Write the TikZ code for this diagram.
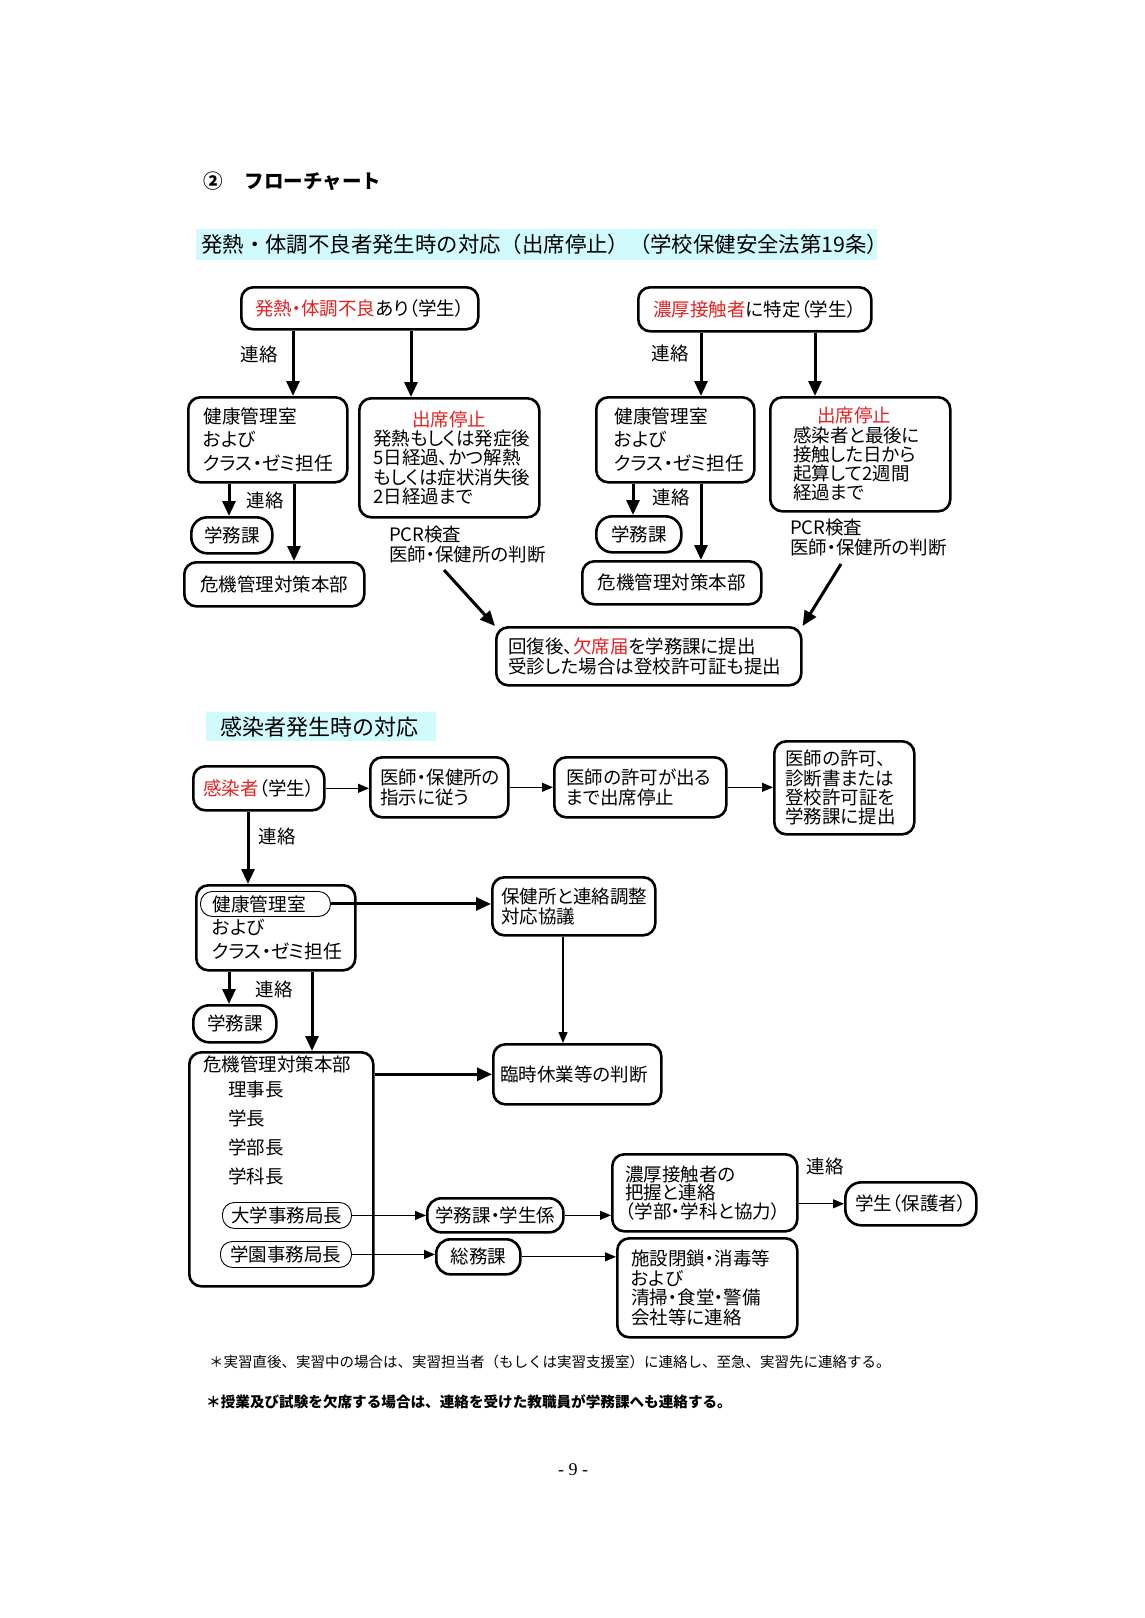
\documentclass[tikz,border=0pt]{standalone}
\usepackage{fontspec}
\setmainfont{Noto Sans CJK JP}[RawFeature={+palt}]
\newfontfamily\plainjp{Noto Sans CJK JP}
\newfontfamily\serifnum{Liberation Serif}
\usetikzlibrary{arrows.meta}
\definecolor{hred}{RGB}{225,35,35}
\definecolor{hcyan}{RGB}{208,250,252}
\tikzset{
  box/.style={draw, line width=2.6pt, rounded corners=12pt, anchor=north west, inner ysep=0pt, align=left, font=\fontsize{18.5}{19.5}\selectfont},
  cbox/.style={box, align=center},
  pill/.style={draw, line width=0.9pt, rounded corners=12pt, anchor=north west, inner sep=0pt, font=\fontsize{18.5}{20}\selectfont},
  thk/.style={line width=3pt, -{Triangle[length=15pt,width=13pt]}},
  thn/.style={line width=1.2pt, -{Triangle[length=11pt,width=9pt]}},
  lbl/.style={font=\fontsize{18.5}{20}\selectfont, inner sep=0pt},
  txt/.style={font=\fontsize{18.5}{20}\selectfont, inner sep=0pt, anchor=west, align=left},
  hbar/.style={fill=hcyan, anchor=north west, inner ysep=0pt, align=left},
}
\begin{document}
\begin{tikzpicture}[x=1pt,y=-1pt]
\path[fill=white, use as bounding box] (0,0) rectangle (1144,1618);

% title
\node[anchor=west, inner sep=0pt, font=\plainjp\bfseries\fontsize{19.5}{20}\selectfont] (title) at (203,181) {②\hspace{22pt}フローチャート};

% heading 1
\node[hbar, minimum height=31pt, text width=671pt, inner xsep=5pt, font=\plainjp\fontsize{21.4}{22}\selectfont] (h1) at (196,229) {発熱・体調不良者発生時の対応（出席停止）（学校保健安全法第19条）};

% top section boxes
\node[cbox, minimum width=237pt, minimum height=42pt] (A) at (240,286) {{\color{hred}発熱・体調不良}あり（学生）};
\node[cbox, minimum width=233pt, minimum height=44pt] (B) at (637,286) {{\color{hred}濃厚接触者}に特定（学生）};

\node[box, minimum width=159pt, minimum height=85pt, text width=129pt, inner xsep=15pt, font=\fontsize{18.7}{23.7}\selectfont] (C1) at (187,396) {健康管理室\\および\\クラス・ゼミ担任};
\node[box, minimum width=180pt, minimum height=119pt, text width=152pt, inner xsep=14pt, font=\fontsize{18.5}{19.3}\selectfont] (D1) at (358,397) {\makebox[\linewidth]{\color{hred}出席停止}\\発熱もしくは発症後\\5日経過、かつ解熱\\もしくは症状消失後\\2日経過まで};

\node[box, minimum width=158pt, minimum height=85pt, text width=122pt, inner xsep=18pt, font=\fontsize{18.7}{23.7}\selectfont] (C2) at (595,396) {健康管理室\\および\\クラス・ゼミ担任};
\node[box, minimum width=180pt, minimum height=114pt, text width=134pt, inner xsep=23pt, font=\fontsize{18.5}{19.3}\selectfont] (D2) at (769,396) {\makebox[\linewidth]{\color{hred}出席停止\hspace{12pt}}\\感染者と最後に\\接触した日から\\起算して2週間\\経過まで};

\node[cbox, rounded corners=16pt, minimum width=81pt, minimum height=36pt] (SG1) at (190,516) {学務課};
\node[cbox, rounded corners=16pt, minimum width=85pt, minimum height=36pt] (SG2) at (595,515) {学務課};
\node[cbox, minimum width=180pt, minimum height=44pt] (K1) at (183,561) {危機管理対策本部};
\node[cbox, minimum width=179pt, minimum height=43pt] (K2) at (581,560) {危機管理対策本部};

\node[txt] (pcr1) at (389,545) {PCR検査\\医師・保健所の判断};
\node[txt] (pcr2) at (790,538) {PCR検査\\医師・保健所の判断};

\node[box, minimum width=305pt, minimum height=58pt, text width=281pt, inner xsep=12pt, font=\fontsize{18.5}{19.6}\selectfont] (E) at (495,626) {回復後、{\color{hred}欠席届}を学務課に提出\\受診した場合は登校許可証も提出};

\node[lbl] (l1) at (259,354) {連絡};
\node[lbl] (l2) at (670,353) {連絡};
\node[lbl] (l3) at (265,500) {連絡};
\node[lbl] (l4) at (671,497) {連絡};

\draw[thk] (A.south -| 293,0) -- (C1.north -| 293,0);
\draw[thk] (A.south -| 411,0) -- (D1.north -| 411,0);
\draw[thk] (B.south -| 701,0) -- (C2.north -| 701,0);
\draw[thk] (B.south -| 815,0) -- (D2.north -| 815,0);
\draw[thk] (C1.south -| 229,0) -- (SG1.north -| 229,0);
\draw[thk] (C1.south -| 294,0) -- (K1.north -| 294,0);
\draw[thk] (C2.south -| 633,0) -- (SG2.north -| 633,0);
\draw[thk] (C2.south -| 701,0) -- (K2.north -| 701,0);
\coordinate (p1) at (444,570);
\coordinate (p2) at (841,564);
\draw[thk] (p1) -- (E.north west);
\draw[thk] (p2) -- (E.north east);

% heading 2
\node[hbar, minimum height=29pt, text width=216pt, inner xsep=7pt, font=\plainjp\fontsize{22}{23}\selectfont] (h2) at (206,712) {\hspace{7pt}感染者発生時の対応};

% second section
\node[cbox, minimum width=131pt, minimum height=44pt] (F) at (192,765) {{\color{hred}感染者}（学生）};
\node[box, minimum width=138pt, minimum height=60pt, text width=118pt, inner xsep=10pt, font=\fontsize{18.5}{19.6}\selectfont] (G) at (369,756) {医師・保健所の\\指示に従う};
\node[box, minimum width=172pt, minimum height=60pt, text width=148pt, inner xsep=12pt, font=\fontsize{18.5}{19.6}\selectfont] (H) at (553,756) {医師の許可が出る\\まで出席停止};
\node[box, minimum width=140pt, minimum height=93pt, text width=118pt, inner xsep=11pt, font=\fontsize{18.5}{19.3}\selectfont] (I) at (773,740) {医師の許可、\\診断書または\\登校許可証を\\学務課に提出};

\draw[thn] (F.east) -- (G.west |- F.east);
\draw[thn] (G.east) -- (H.west |- G.east);
\draw[thn] (H.east) -- (I.west |- H.east);

\node[box, minimum width=159pt, minimum height=85pt, text width=127pt, inner xsep=16pt, font=\fontsize{18.7}{23.7}\selectfont] (J) at (195,884) {健康管理室\\および\\クラス・ゼミ担任};
\node[pill, minimum width=130pt, minimum height=25pt] (J0) at (200,891) {};
\node[lbl] (l5) at (277,836) {連絡};
\draw[thk] (F.south -| 248,0) -- (J.north -| 248,0);

\node[box, minimum width=163pt, minimum height=58pt, text width=145pt, inner xsep=9pt, font=\fontsize{18.5}{19.6}\selectfont] (K) at (491,876) {保健所と連絡調整\\対応協議};
\draw[thk] (J0.east) -- (K.west |- J0.east);

\node[box, minimum width=168pt, minimum height=60pt, text width=154pt, inner xsep=7pt] (L) at (492,1043) {臨時休業等の判断};
\draw[thn] (K.south -| 563,0) -- (L.north -| 563,0);

\node[cbox, rounded corners=16pt, minimum width=83pt, minimum height=37pt] (SG3) at (192,1004) {学務課};
\node[lbl] (l6) at (274,989) {連絡};
\node[box, minimum width=184pt, minimum height=234pt] (M) at (188,1051) {};
\draw[thk] (J.south -| 229,0) -- (SG3.north -| 229,0);
\draw[thk] (J.south -| 312,0) -- (M.north -| 312,0);
\draw[thk] (L.west -| M.east) -- (L.west);

\node[txt] (m0) at (203,1064) {危機管理対策本部};
\node[txt] (m1) at (228,1089) {理事長};
\node[txt] (m2) at (228,1118) {学長};
\node[txt] (m3) at (228,1147) {学部長};
\node[txt] (m4) at (228,1176) {学科長};
\node[pill, minimum width=129pt, minimum height=26pt] (O1) at (222,1202) {大学事務局長};
\node[pill, minimum width=131pt, minimum height=26pt] (O2) at (220,1241) {学園事務局長};

\node[cbox, rounded corners=14pt, minimum width=136pt, minimum height=34pt] (N) at (426,1197) {学務課・学生係};
\node[box, minimum width=185pt, minimum height=77pt, text width=159pt, inner xsep=13pt, font=\fontsize{18.5}{18.6}\selectfont] (O) at (611,1153) {濃厚接触者の\\把握と連絡\\（学部・学科と協力）};
\node[cbox, rounded corners=16pt, minimum width=131pt, minimum height=43pt] (P) at (844,1181) {学生（保護者）};
\node[lbl] (l7) at (825,1166) {連絡};
\node[cbox, rounded corners=14pt, minimum width=84pt, minimum height=35pt] (Q) at (435,1238) {総務課};
\node[box, minimum width=180pt, minimum height=99pt, text width=152pt, inner xsep=14pt, font=\fontsize{18.5}{19.6}\selectfont] (R) at (616,1237) {施設閉鎖・消毒等\\および\\清掃・食堂・警備\\会社等に連絡};

\draw[thn] (O1.east) -- (N.west |- O1.east);
\draw[thn] (N.east) -- (O.west |- N.east);
\draw[thn] (P.west -| O.east) -- (P.west);
\draw[thn] (O2.east) -- (Q.west |- O2.east);
\draw[thn] (Q.east) -- (R.west |- Q.east);

% footnotes
\node[anchor=west, inner sep=0pt, font=\plainjp\fontsize{14.5}{15}\selectfont] (fn1) at (209,1362) {＊実習直後、実習中の場合は、実習担当者（もしくは実習支援室）に連絡し、至急、実習先に連絡する。};
\node[anchor=west, inner sep=0pt, font=\plainjp\bfseries\fontsize{14.6}{15}\selectfont] (fn2) at (206,1402) {＊授業及び試験を欠席する場合は、連絡を受けた教職員が学務課へも連絡する。};
\node[inner sep=0pt, font=\serifnum\fontsize{18}{19}\selectfont] (pg) at (573,1470) {- 9 -};
\end{tikzpicture}
\end{document}
